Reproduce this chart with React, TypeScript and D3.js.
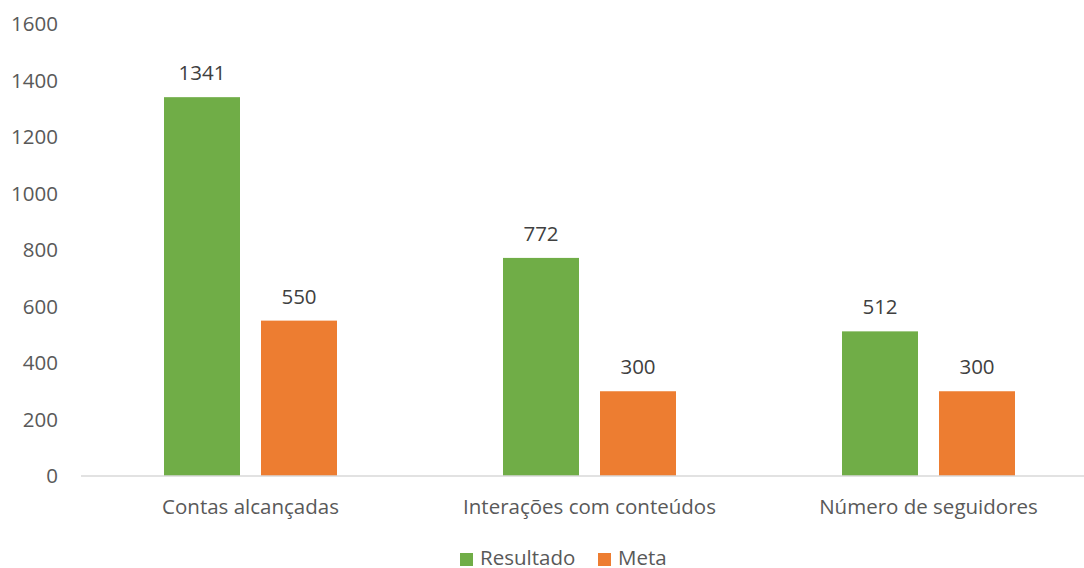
import React from "react";
import * as d3 from "d3";

const categories = ["Contas alcançadas", "Interações com conteúdos", "Número de seguidores"];
const seriesNames = ["Resultado", "Meta"];
const resultado = [1341, 772, 512];
const meta = [550, 300, 300];
const yTicks = [0, 200, 400, 600, 800, 1000, 1200, 1400, 1600];
const colors = ["#70AD47", "#ED7D31"];

const W = 1084;
const H = 568;
const FONT = "'Open Sans', sans-serif";
const TEXT = "#595959";
const FS = 20.5;

export default function App() {
  const values = [resultado, meta];
  const x0 = d3.scaleBand<string>().domain(categories).range([81, 1098]).paddingInner(0).paddingOuter(0);
  const bw = x0.bandwidth();
  const groupW = 173;
  const x1 = d3
    .scaleBand<string>()
    .domain(seriesNames)
    .range([(bw - groupW) / 2, (bw + groupW) / 2])
    .paddingInner(21 / 97);
  const y = d3.scaleLinear().domain([0, 1600]).range([476, 24]);

  return (
    <svg
      width={W}
      height={H}
      style={{ position: "absolute", left: 0, top: 0, background: "#fff" }}
      fontFamily={FONT}
    >
      <rect x={0} y={0} width={W} height={H} fill="#fff" />
      {yTicks.map((t) => (
        <text key={t} x={58} y={y(t)} dy="0.36em" textAnchor="end" fontSize={FS} fill={TEXT}>
          {t}
        </text>
      ))}
      {categories.map((c, i) => (
        <g key={c} transform={`translate(${x0(c)},0)`}>
          {seriesNames.map((s, j) => {
            const v = values[j][i];
            const bx = x1(s)!;
            return (
              <g key={s}>
                <rect x={bx} y={y(v)} width={x1.bandwidth()} height={y(0) - y(v)} fill={colors[j]} />
                <text
                  x={bx + x1.bandwidth() / 2}
                  y={y(v) - 17}
                  textAnchor="middle"
                  fontSize={FS}
                  fill="#404040"
                >
                  {v}
                </text>
              </g>
            );
          })}
          <text x={bw / 2} y={514} textAnchor="middle" fontSize={FS} fill={TEXT}>
            {c}
          </text>
        </g>
      ))}
      <line x1={81} x2={W} y1={y(0)} y2={y(0)} stroke="#D9D9D9" strokeWidth={1.5} />
      {seriesNames.map((s, j) => {
        const lx = [460, 598][j];
        return (
          <g key={s}>
            <rect x={lx} y={553} width={13} height={13} fill={colors[j]} />
            <text x={lx + 20} y={565} fontSize={FS} fill={TEXT}>
              {s}
            </text>
          </g>
        );
      })}
    </svg>
  );
}
